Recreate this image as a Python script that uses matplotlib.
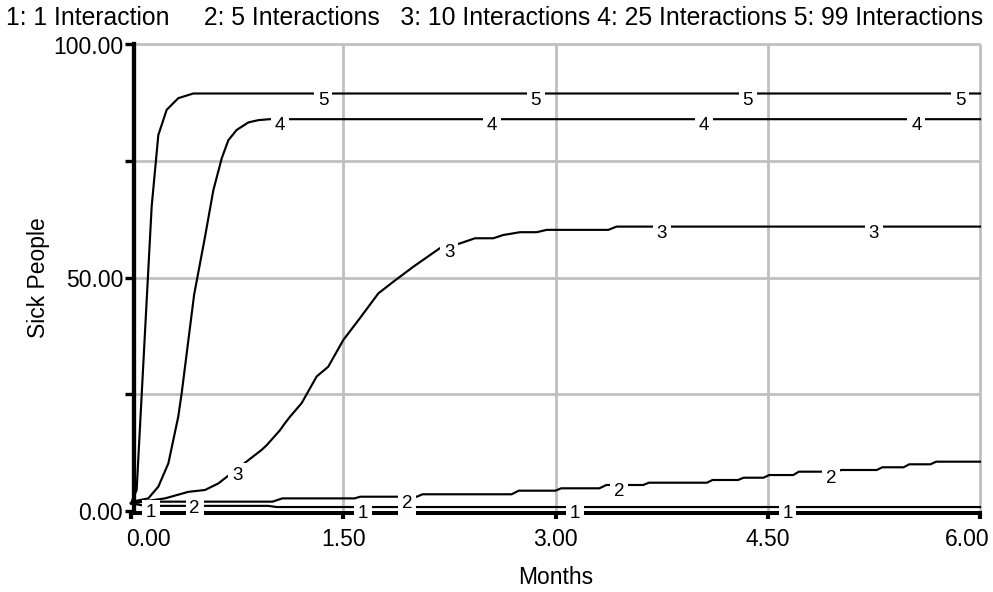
import numpy as np
import matplotlib
matplotlib.use("Agg")
import matplotlib.pyplot as plt
from matplotlib.transforms import ScaledTranslation, blended_transform_factory

plt.rcParams['font.family'] = ['Liberation Sans', 'DejaVu Sans']

# ---------------- data ----------------
series_names = ["1 Interaction", "5 Interactions", "10 Interactions",
                "25 Interactions", "99 Interactions"]
title_gaps = ["     ", "   ", " ", " "]

t1 = [0, 0.10, 0.97, 1.03, 6.0]
v1 = [1.65, 1.1, 1.1, 0.85, 0.85]

t2 = [0, 0.10, 1.00, 1.07, 1.58, 1.62, 2.02, 2.06, 2.69, 2.74, 3.00, 3.04,
      3.31, 3.36, 3.62, 3.66, 4.07, 4.11, 4.29, 4.33, 4.47, 4.51, 4.68, 4.72,
      4.98, 5.02, 5.27, 5.31, 5.46, 5.50, 5.65, 5.69, 6.00]
v2 = [1.65, 2.0, 2.0, 2.7, 2.7, 3.06, 3.06, 3.58, 3.58, 4.35, 4.35, 4.86,
      4.86, 5.57, 5.57, 6.06, 6.06, 6.64, 6.64, 7.13, 7.13, 7.7, 7.7, 8.42,
      8.42, 8.78, 8.78, 9.36, 9.36, 10.0, 10.0, 10.56, 10.56]

t3 = [0, 0.24, 0.405, 0.523, 0.617, 0.80, 0.924, 0.959, 1.053, 1.088, 1.124,
      1.206, 1.312, 1.394, 1.5, 1.618, 1.748, 1.854, 1.995, 2.184, 2.325,
      2.431, 2.56, 2.631, 2.749, 2.867, 2.938, 3.373, 3.432, 6.0]
v3 = [1.65, 2.7, 4.1, 4.5, 5.9, 10.2, 13.1, 14.1, 17.3, 18.8, 20.2,
      23.1, 28.8, 30.9, 36.6, 41.3, 46.6, 49.1, 52.3, 56.3, 57.3,
      58.4, 58.4, 59.1, 59.7, 59.7, 60.2, 60.2, 60.9, 60.9]

t4 = [0, 0.04, 0.122, 0.193, 0.264, 0.334, 0.358, 0.446, 0.523, 0.582, 0.641,
      0.688, 0.747, 0.829, 0.90, 0.982, 6.0]
v4 = [1.65, 2.2, 2.7, 5.2, 10.2, 20.2, 25.2, 46.3, 58.7, 68.7, 75.5,
      79.4, 81.6, 83.2, 83.7, 83.9, 83.9]

t5 = [0, 0.04, 0.076, 0.111, 0.146, 0.193, 0.252, 0.334, 0.44, 6.0]
v5 = [1.65, 4.5, 25.2, 45.2, 65.2, 80.5, 85.9, 88.4, 89.4, 89.4]

label_times = [
    [0.14, 1.64, 3.14, 4.64],
    [0.45, 1.95, 3.45, 4.95],
    [0.75, 2.25, 3.75, 5.25],
    [1.05, 2.55, 4.05, 5.55],
    [1.36, 2.86, 4.36, 5.86],
]

x_ticks = [0, 1.5, 3, 4.5, 6]
x_tick_labels = ["0.00", "1.50", "3.00", "4.50", "6.00"]
y_ticks = [0, 25, 50, 75, 100]
y_tick_labels = ["0.00", "", "50.00", "", "100.00"]

x_label = "Months"
y_label = "Sick People"

# ---------------- figure ----------------
W, H = 993, 592
fig = plt.figure(figsize=(W / 100, H / 100), dpi=100)
x0p, x1p, y0p, y1p = 131, 980, 511, 44
ax = fig.add_axes([x0p / W, 1 - y0p / H, (x1p - x0p) / W, (y0p - y1p) / H])
ax.set_xlim(0, 6)
ax.set_ylim(0, 100)

for s in ['top', 'right']:
    ax.spines[s].set_visible(False)
ax.spines['left'].set_position(('outward', -2.0))
ax.spines['bottom'].set_position(('outward', 1.45))
ax.spines['left'].set_linewidth(3.1)
ax.spines['bottom'].set_linewidth(2.9)

ax.set_xticks(x_ticks)
ax.set_yticks(y_ticks)
ax.set_xticklabels([])
ax.set_yticklabels([])
ax.tick_params(axis='x', direction='out', length=4.5, width=3.0, color='black')
ax.tick_params(axis='y', direction='out', length=6.3, width=2.4, color='black')

grid_color = '#c0c0c0'
for xv in x_ticks[1:]:
    ax.axvline(xv, color=grid_color, lw=2.0, zorder=1, clip_on=False,
               solid_capstyle='butt')
for yv in y_ticks[1:]:
    ax.axhline(yv, color=grid_color, lw=2.0, zorder=1, clip_on=False,
               solid_capstyle='butt')

all_t = [t1, t2, t3, t4, t5]
all_v = [v1, v2, v3, v4, v5]
lab_off = ScaledTranslation(0, -6.5 / 100, fig.dpi_scale_trans)
for k, (tt, vv) in enumerate(zip(all_t, all_v)):
    ax.plot(tt, vv, color='black', lw=1.55, zorder=3, clip_on=False,
            solid_joinstyle='round')
    for lt in label_times[k]:
        yv = float(np.interp(lt, tt, vv))
        ax.text(lt, yv, str(k + 1), transform=ax.transData + lab_off,
                ha='center', va='center', fontsize=13.5, zorder=6,
                clip_on=False,
                bbox=dict(boxstyle='square,pad=0.2', fc='white', ec='none'))

# tick labels
xt = blended_transform_factory(ax.transData, ax.transAxes)
for i, (xv, lab) in enumerate(zip(x_ticks, x_tick_labels)):
    ha, dx = 'center', 0
    if i == 0:
        ha, dx = 'left', -5
    elif i == len(x_ticks) - 1:
        ha, dx = 'right', 10
    ax.text(xv, 0, lab,
            transform=xt + ScaledTranslation(dx / 100, -17 / 100, fig.dpi_scale_trans),
            ha=ha, va='top', fontsize=16.5)

yt = blended_transform_factory(ax.transAxes, ax.transData)
for yv, lab in zip(y_ticks, y_tick_labels):
    if lab:
        ax.text(0, yv, lab,
                transform=yt + ScaledTranslation(-8 / 100, -3 / 100, fig.dpi_scale_trans),
                ha='right', va='center', fontsize=16.5)

fig.text(38 / W, 1 - 278 / H, y_label, rotation=90, ha='center', va='center',
         fontsize=16.5)
fig.text(555.5 / W, 1 - 578 / H, x_label, ha='center', va='center', fontsize=16.5)

title = ""
for i, name in enumerate(series_names):
    title += f"{i + 1}: {name}"
    if i < len(title_gaps):
        title += title_gaps[i]
fig.text(6 / W, 1 - 18 / H, title, ha='left', va='center', fontsize=17.8)

fig.savefig('out.png', dpi=100)
